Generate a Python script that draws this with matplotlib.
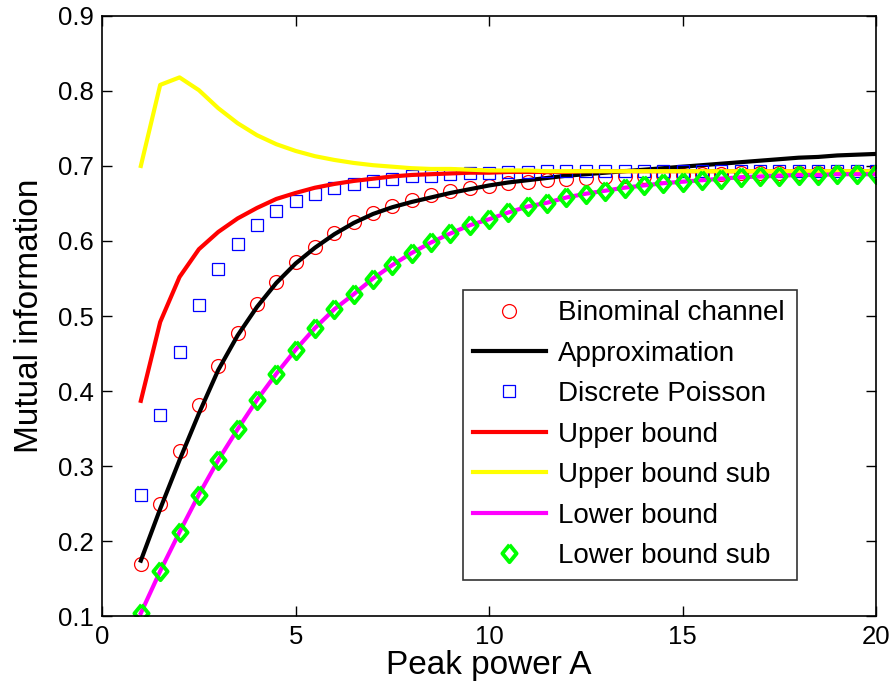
import matplotlib
matplotlib.use('Agg')
import matplotlib.pyplot as plt
import numpy as np

plt.rcParams['font.family'] = ['Liberation Sans', 'DejaVu Sans']

# peak power A, sampled every 0.5
A = np.arange(1, 20.5, 0.5)

binomial = [0.170, 0.250, 0.320, 0.381, 0.434, 0.478, 0.516, 0.546, 0.572, 0.592,
            0.610, 0.625, 0.637, 0.647, 0.655, 0.661, 0.667, 0.670, 0.673, 0.677,
            0.679, 0.681, 0.683, 0.684, 0.685, 0.686, 0.687, 0.688, 0.688, 0.689,
            0.689, 0.690, 0.690, 0.690, 0.691, 0.691, 0.691, 0.691, 0.692]
approx = [0.174, 0.243, 0.308, 0.370, 0.428, 0.474, 0.512, 0.544, 0.570, 0.591,
          0.609, 0.624, 0.636, 0.645, 0.652, 0.658, 0.664, 0.669, 0.674, 0.678,
          0.681, 0.684, 0.687, 0.689, 0.691, 0.693, 0.695, 0.697, 0.699, 0.701,
          0.703, 0.705, 0.707, 0.709, 0.711, 0.712, 0.714, 0.715, 0.716]
poisson = [0.262, 0.368, 0.452, 0.515, 0.562, 0.596, 0.621, 0.640, 0.653, 0.663,
           0.670, 0.676, 0.680, 0.683, 0.686, 0.687, 0.689, 0.690, 0.691, 0.692,
           0.692, 0.693, 0.693, 0.693, 0.693, 0.693, 0.693, 0.693, 0.693, 0.693,
           0.693, 0.693, 0.693, 0.693, 0.693, 0.693, 0.693, 0.693, 0.693]
upper = [0.387, 0.492, 0.552, 0.589, 0.612, 0.630, 0.644, 0.656, 0.664, 0.671,
         0.676, 0.680, 0.683, 0.686, 0.688, 0.689, 0.690, 0.691, 0.691, 0.692,
         0.692, 0.692, 0.692, 0.693, 0.693, 0.693, 0.693, 0.693, 0.693, 0.693,
         0.693, 0.693, 0.693, 0.693, 0.693, 0.693, 0.693, 0.693, 0.693]
upper_sub = [0.700, 0.808, 0.818, 0.801, 0.777, 0.757, 0.741, 0.729, 0.720, 0.713,
             0.708, 0.704, 0.701, 0.699, 0.697, 0.696, 0.696, 0.695, 0.694, 0.694,
             0.694, 0.693, 0.693, 0.693, 0.693, 0.693, 0.693, 0.693, 0.693, 0.693,
             0.693, 0.693, 0.693, 0.693, 0.693, 0.693, 0.693, 0.693, 0.693]
lower = [0.104, 0.160, 0.212, 0.262, 0.308, 0.349, 0.388, 0.423, 0.455, 0.484,
         0.509, 0.529, 0.550, 0.568, 0.584, 0.598, 0.610, 0.621, 0.629, 0.638,
         0.646, 0.651, 0.658, 0.663, 0.667, 0.671, 0.674, 0.677, 0.679, 0.681,
         0.683, 0.685, 0.686, 0.687, 0.688, 0.688, 0.689, 0.689, 0.689]
lower_sub = lower

# matlab-like diamond, a bit taller than wide
diamond = [(0, 1), (0.82, 0), (0, -1), (-0.82, 0), (0, 1)]

fig = plt.figure(figsize=(8.96, 6.9), dpi=100)
ax = fig.add_axes([0.114, 0.107, 0.8637, 0.870])

ax.plot(A, binomial, 'o', color='r', mfc='none', ms=10, mew=0.9, label='Binominal channel')
ax.plot(A, approx, '-', color='k', lw=3, label='Approximation')
ax.plot(A, poisson, 's', color='b', mfc='none', ms=8, mew=0.9, label='Discrete Poisson')
ax.plot(A, upper, '-', color='r', lw=3, label='Upper bound')
ax.plot(A, upper_sub, '-', color='#ffff00', lw=3, label='Upper bound sub')
ax.plot(A, lower, '-', color='#ff00ff', lw=3, label='Lower bound')
ax.plot(A, lower_sub, marker=diamond, ls='none', color='#00ff00', mfc='none', ms=12.5, mew=2.8,
        label='Lower bound sub')

ax.set_xlim(0, 20)
ax.set_ylim(0.1, 0.9)
ax.set_xticks([0, 5, 10, 15, 20])
ax.set_yticks([0.1, 0.2, 0.3, 0.4, 0.5, 0.6, 0.7, 0.8, 0.9])
ax.set_yticklabels(['0.1', '0.2', '0.3', '0.4', '0.5', '0.6', '0.7', '0.8', '0.9'])
ax.tick_params(direction='in', top=True, right=True, length=7, width=1, labelsize=18.5, pad=6)
for s in ax.spines.values():
    s.set_linewidth(1.2)
ax.set_xlabel('Peak power A', fontsize=24, labelpad=1)
ax.set_ylabel('Mutual information', fontsize=24, labelpad=9)

leg = ax.legend(loc='lower left', bbox_to_anchor=(0.466, 0.061, 0.432, 0.485), mode='expand',
                fontsize=20, frameon=True, fancybox=False, handlelength=2.6,
                borderaxespad=0, labelspacing=0.52, handletextpad=0.45, borderpad=0.38)
leg.get_frame().set_edgecolor('k')
leg.get_frame().set_linewidth(1.2)

fig.savefig('out.png', dpi=100)
